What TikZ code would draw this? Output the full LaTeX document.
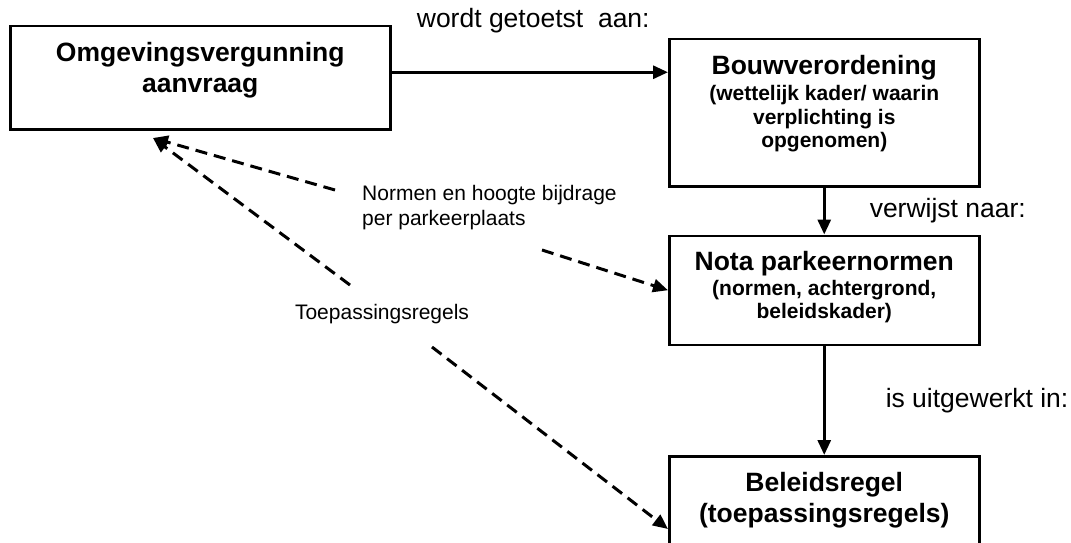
\documentclass[tikz,border=0pt]{standalone}
\usepackage{fontspec}
\setmainfont{Liberation Sans}
\usetikzlibrary{positioning,arrows.meta}
\newcommand\grootletter{\fontsize{26.5}{31}\selectfont}
\newcommand\kleinletter{\fontsize{21}{23.5}\selectfont}
\tikzset{
  blok/.style={draw, line width=2.5pt, inner sep=0pt, text width=310pt,
    align=flush center, text height=35pt, font=\grootletter\bfseries},
  pijl/.style={line width=3pt, -{Triangle[length=15pt,width=13pt]}},
  stippel/.style={pijl, dash pattern=on 12pt off 7pt},
  tekst/.style={inner sep=0pt, font=\grootletter},
  noot/.style={inner sep=0pt, font=\fontsize{21}{25}\selectfont},
}
\begin{document}
\begin{tikzpicture}[x=1pt,y=-1pt]
  \useasboundingbox (0,0) rectangle (1071,543);
  \clip (0,0) rectangle (1071,543);
  \node[blok, text width=380pt, text depth=68pt, anchor=north west] (Aanvraag) at (9,25)
    {Omgevingsvergunning\\aanvraag\par};
  \node[blok, text depth=112pt, anchor=north west] (Bouw) at (668,38)
    {Bouwverordening\\[3pt]\kleinletter (wettelijk kader/ waarin\\verplichting is\\opgenomen)\par};
  \node[blok, text depth=74pt] (Nota) [below=47pt of Bouw]
    {Nota parkeernormen\\[1pt]\kleinletter (normen, achtergrond,\\beleidskader)\par};
  \node[blok, text depth=90pt] (Regel) [below=109pt of Nota]
    {Beleidsregel\\(toepassingsregels)\par};
  \path[pijl]
    ([yshift=5.5pt]Aanvraag.east) edge node[tekst, above=38pt, xshift=3.5pt] {wordt getoetst\ \ aan:}
      ([yshift=5.5pt]Aanvraag.east -| Bouw.west)
    (Bouw) edge node[tekst, right=44pt] {verwijst naar:} (Nota)
    (Nota) edge node[tekst, right=60pt] {is uitgewerkt in:} (Regel);
  \coordinate (Punt) at (153,138);
  \coordinate (N1) at (335,190);
  \coordinate (N2) at (542,250);
  \coordinate (T1) at (350,285);
  \coordinate (T2) at (432,347);
  \node[noot, text width=270pt, align=flush left, anchor=base west] (Normen) at (362,200)
    {Normen en hoogte bijdrage\\per parkeerplaats\par};
  \node[noot, anchor=base] (Toepassing) at (382,319) {Toepassingsregels};
  \path[stippel]
    (N1) edge (Punt)
    (N2) edge (Nota.west)
    (T1) edge (Punt)
    (T2) edge ([yshift=-74pt]Regel.north west);
\end{tikzpicture}
\end{document}
